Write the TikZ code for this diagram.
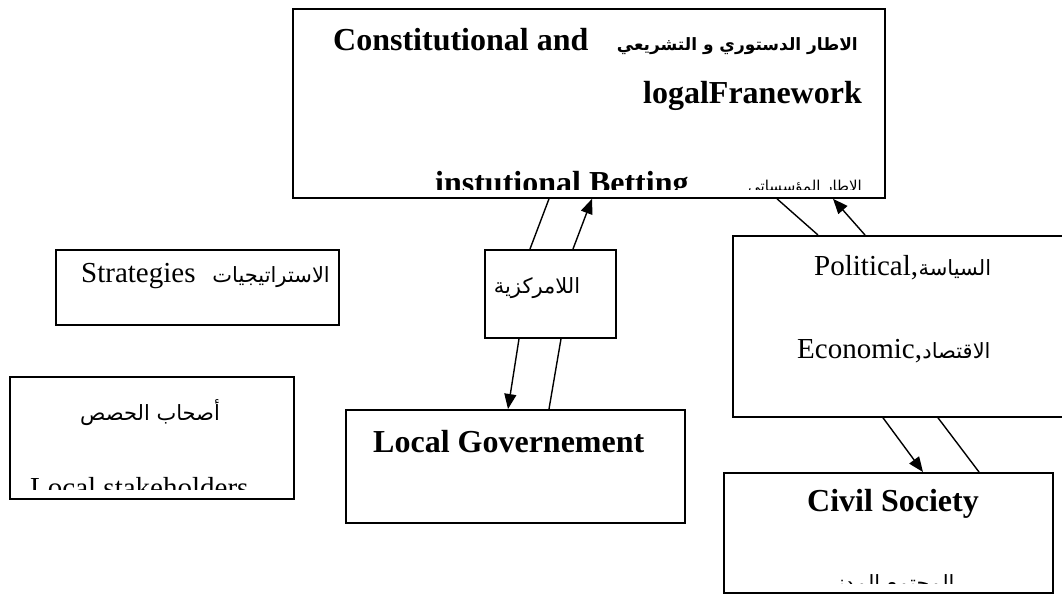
\documentclass[tikz,border=0pt]{standalone}
\usepackage{fontspec}
\setmainfont{Liberation Serif}
\newfontfamily\arabicfont[Script=Arabic]{DejaVu Sans}
\TeXXeTstate=1
\usetikzlibrary{arrows.meta}
\newcommand\boxhead{\fontsize{32}{36}\selectfont\bfseries}
\newcommand\boxtext{\fontsize{29}{33}\selectfont}
\newcommand\arhead{\fontsize{17}{22}\selectfont\bfseries\arabicfont}
\newcommand\artext{\fontsize{21}{26}\selectfont\arabicfont}
\newcommand\arsmall{\fontsize{15}{19}\selectfont\arabicfont}

\begin{document}
\begin{tikzpicture}[x=1pt, y=-1pt,
	box/.style={draw, line width=1.8pt, inner sep=0pt, anchor=north west},
	link/.style={line width=1.4pt},
	arrowlink/.style={line width=1.4pt, -{Triangle[length=15pt, width=12pt]}},
	label/.style={inner sep=0pt}]
	\useasboundingbox (0,0) rectangle (1062,595);
	\clip (0,0) rectangle (1062,595);
	%
	%boxes
	\node[box, minimum width=592pt, minimum height=189pt] (legal) at (292,8) {};
	\node[box, minimum width=131pt, minimum height=88pt] (decent) at (484,249) {};
	\node[box, minimum width=360pt, minimum height=181pt] (polit) at (732,235) {};
	\node[box, minimum width=283pt, minimum height=75pt] (strat) at (55,249) {};
	\node[box, minimum width=284pt, minimum height=122pt] (stake) at (9,376) {};
	\node[box, minimum width=339pt, minimum height=113pt] (localgov) at (345,409) {};
	\node[box, minimum width=329pt, minimum height=120pt] (civil) at (723,472) {};
	%
	%texts top box
	\begin{scope}
		\clip (292,8) rectangle (884,189);
		\node[label, anchor=base west] (legalen) at (333,50) {\boxhead Constitutional and};
		\node[label, anchor=base east] (legalar) at (858,50) {\arhead\beginR الاطار الدستوري و التشريعي\endR};
		\node[label, anchor=base east] (legalfw) at (862,103) {\boxhead logalFranework};
		\node[label, anchor=base west] (instit) at (435,193) {\boxhead instutional Betting};
		\node[label, anchor=base east] (institar) at (862,191) {\arsmall\beginR الاطار المؤسساتي\endR};
	\end{scope}
	%
	%texts other boxes
	\node[label, anchor=base] (decentar) at (537,293) {\artext\beginR اللامركزية\endR};
	\node[label, anchor=base west] (politen) at (814,275) {\boxtext Political,};
	\node[label, anchor=base west] (politar) at (politen.base east) {\artext\beginR السياسة\endR};
	\node[label, anchor=base west] (econen) at (797,358) {\boxtext Economic,};
	\node[label, anchor=base west] (econar) at (econen.base east) {\artext\beginR الاقتصاد\endR};
	\node[label, anchor=base west] (straten) at (81,282) {\boxtext Strategies};
	\node[label, anchor=base east] (stratar) at (330,282) {\artext\beginR الاستراتيجيات\endR};
	\node[label, anchor=base] (stakear) at (150,420) {\artext\beginR أصحاب الحصص\endR};
	\node[label, anchor=base west] (localen) at (373,452) {\boxhead Local Governement};
	\node[label, anchor=base west] (civilen) at (807,511) {\boxhead Civil Society};
	\begin{scope}
		\clip (9,376) rectangle (293,489);
		\node[label, anchor=base west] (stakeen) at (30,497) {\boxtext Local stakeholders};
	\end{scope}
	\begin{scope}
		\clip (723,472) rectangle (1052,583);
		\node[label, anchor=base] (civilar) at (888,590) {\artext\beginR المجتمع المدني\endR};
	\end{scope}
	%
	%connectors
	\draw[link] ([xshift=257pt]legal.south west) -- ([xshift=46pt]decent.north west);
	\draw[arrowlink] ([xshift=89pt]decent.north west) -- ([xshift=300pt]legal.south west);
	\draw[arrowlink] ([xshift=35pt]decent.south west) -- ([xshift=163pt]localgov.north west);
	\draw[link] ([xshift=204pt]localgov.north west) -- ([xshift=77pt]decent.south west);
	\draw[link] ([xshift=485pt]legal.south west) -- ([xshift=86pt]polit.north west);
	\draw[arrowlink] ([xshift=133pt]polit.north west) -- ([xshift=541pt]legal.south west);
	\draw[arrowlink] ([xshift=151pt]polit.south west) -- ([xshift=200pt]civil.north west);
	\draw[link] ([xshift=256pt]civil.north west) -- ([xshift=206pt]polit.south west);
\end{tikzpicture}
\end{document}
